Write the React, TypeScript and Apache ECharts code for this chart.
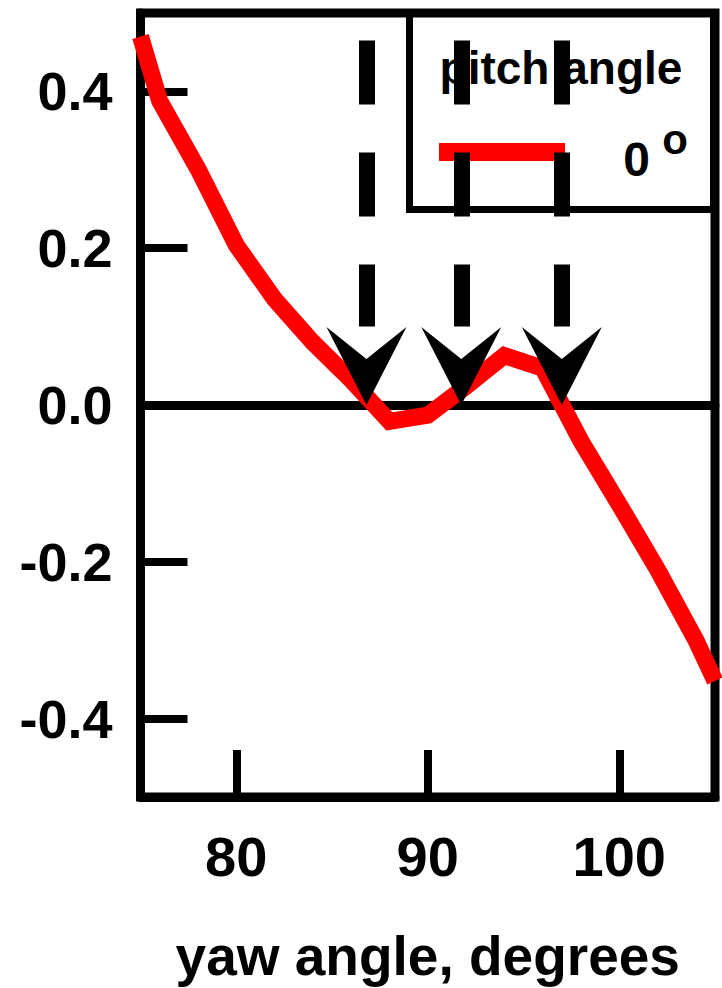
import React, { useEffect, useRef } from "react";
import * as echarts from "echarts";

// yaw angle (degrees) and coefficient for pitch angle 0°
const yawAngle = [75, 76, 78, 80, 82, 84, 86, 88, 90, 92, 94, 96, 98, 100, 102, 104, 105];
const coefficient = [0.47, 0.388, 0.301, 0.204, 0.135, 0.08, 0.032, -0.021, -0.013, 0.024, 0.063, 0.047, -0.046, -0.127, -0.21, -0.3, -0.352];

const xTicks = [80, 90, 100];
const yTicks = [-0.4, -0.2, 0, 0.2, 0.4];

// zero crossings marked by dashed arrows
const arrowX = [86.8, 91.75, 97.0];
const dashTop = 0.465;
const dashBottom = 0.1;

const seriesName = "0 °";
const legendTitle = "pitch angle";
const xName = "yaw angle, degrees";

const FONT = "Liberation Sans, Arial, Helvetica, sans-serif";

export default function App() {
  const ref = useRef<HTMLDivElement>(null);

  useEffect(() => {
    if (!ref.current) return;
    const chart = echarts.init(ref.current, null, { renderer: "svg" });
    const gridLeft = 140.5;
    const gridRight = 7;
    const gridTop = 13;
    const gridBottom = 187.5;

    chart.setOption({
      animation: false,
      backgroundColor: "#fff",
      grid: {
        left: gridLeft,
        right: gridRight,
        top: gridTop,
        bottom: gridBottom,
        show: true,
        borderColor: "#000",
        borderWidth: 9,
        backgroundColor: "transparent",
      },
      xAxis: [
        {
          type: "value",
          min: 75,
          max: 105,
          position: "bottom",
          name: xName,
          nameLocation: "middle",
          nameGap: 131,
          nameTextStyle: { color: "#000", fontSize: 55, fontWeight: "bold", fontFamily: FONT },
          axisLine: { show: true, onZero: false, lineStyle: { color: "#000", width: 9 } },
          axisTick: {
            show: true,
            inside: true,
            length: 47,
            customValues: xTicks,
            lineStyle: { color: "#000", width: 8 },
          },
          axisLabel: {
            show: true,
            customValues: xTicks,
            margin: 31,
            color: "#000",
            fontSize: 56,
            fontWeight: "bold",
            fontFamily: FONT,
          },
          splitLine: { show: false },
        },
        {
          type: "value",
          min: 75,
          max: 105,
          position: "bottom",
          axisLine: { show: true, onZero: true, lineStyle: { color: "#000", width: 9 } },
          axisTick: { show: false },
          axisLabel: { show: false },
          splitLine: { show: false },
        },
      ],
      yAxis: {
        type: "value",
        min: -0.5,
        max: 0.5,
        axisLine: { show: true, onZero: false, lineStyle: { color: "#000", width: 9 } },
        axisTick: {
          show: true,
          inside: true,
          length: 47,
          customValues: yTicks,
          lineStyle: { color: "#000", width: 8 },
        },
        axisLabel: {
          show: true,
          customValues: yTicks,
          margin: 28,
          color: "#000",
          fontSize: 54,
          fontWeight: "bold",
          fontFamily: FONT,
          formatter: (v: number) => v.toFixed(1),
        },
        splitLine: { show: false },
      },
      graphic: [
        {
          type: "rect",
          z: 0,
          shape: { x: 409.5, y: 13, width: 304, height: 196.5 },
          style: { fill: "none", stroke: "#000", lineWidth: 7 },
        },
        {
          type: "text",
          z: 0,
          x: 561,
          y: 68,
          style: {
            text: legendTitle,
            fill: "#000",
            fontSize: 46,
            fontWeight: "bold",
            fontFamily: FONT,
            align: "center",
            verticalAlign: "middle",
          },
        },
        {
          type: "line",
          z: 0,
          shape: { x1: 439, y1: 152, x2: 565, y2: 152 },
          style: { stroke: "#ff0000", lineWidth: 18 },
        },
        {
          type: "text",
          z: 0,
          x: 636.5,
          y: 159.5,
          style: {
            text: "0",
            fill: "#000",
            fontSize: 48,
            fontWeight: "bold",
            fontFamily: FONT,
            align: "center",
            verticalAlign: "middle",
          },
        },
        {
          type: "text",
          z: 0,
          x: 675,
          y: 139,
          style: {
            text: "o",
            fill: "#000",
            fontSize: 42,
            fontWeight: "bold",
            fontFamily: FONT,
            align: "center",
            verticalAlign: "middle",
          },
        },
      ],
      series: [
        {
          name: seriesName,
          type: "line",
          xAxisIndex: 0,
          data: yawAngle.map((x, i) => [x, coefficient[i]]),
          showSymbol: false,
          symbol: "none",
          clip: false,
          z: 3,
          lineStyle: { color: "#ff0000", width: 17, join: "miter", opacity: 1 },
        },
        {
          name: "arrows",
          type: "scatter",
          xAxisIndex: 0,
          data: arrowX.map((x) => [x, 0]),
          symbol: "path://M0,0L40,32L80,0L40,78Z",
          symbolSize: [80, 78],
          symbolOffset: [0, "-50%"],
          itemStyle: { color: "#000", opacity: 1 },
          clip: false,
          z: 5,
          silent: true,
          markLine: {
            silent: true,
            z: 4,
            symbol: ["none", "none"],
            label: { show: false },
            lineStyle: { color: "#000", width: 16, type: [64, 48], cap: "butt", opacity: 1 },
            data: arrowX.map((x) => [{ coord: [x, dashTop] }, { coord: [x, dashBottom] }]),
          },
        },
      ],
    });

    return () => chart.dispose();
  }, []);

  return (
    <div
      ref={ref}
      style={{ position: "fixed", left: 0, top: 0, width: 722, height: 988, background: "#fff" }}
    />
  );
}
